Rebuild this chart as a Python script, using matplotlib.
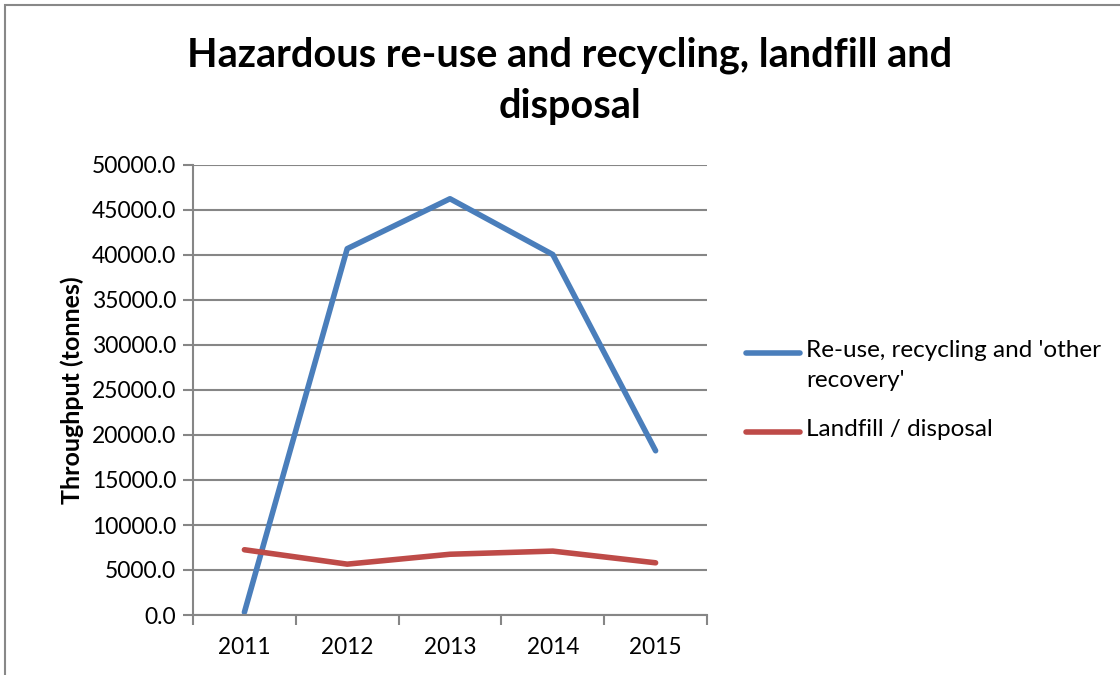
import matplotlib.pyplot as plt
from matplotlib.lines import Line2D
from matplotlib.patches import Rectangle
from matplotlib.ticker import FormatStrFormatter

plt.rcParams['font.family'] = ['Lato', 'DejaVu Sans']

# data
years = ['2011', '2012', '2013', '2014', '2015']
reuse = [300, 40700, 46250, 40050, 18250]
landfill = [7250, 5650, 6750, 7100, 5800]
labels = ["Re-use, recycling and 'other\nrecovery'", 'Landfill / disposal']
colors = ['#4A7EBB', '#BE4B48']

fig = plt.figure(figsize=(11.2, 6.75), dpi=100)
ax = fig.add_axes([193/1120, 1 - 615/675, 514/1120, 450/675])

x = range(len(years))
ax.plot(x, reuse, color=colors[0], lw=4, solid_capstyle='round', solid_joinstyle='round')
ax.plot(x, landfill, color=colors[1], lw=4, solid_capstyle='round', solid_joinstyle='round')

ax.set_xlim(-0.5, len(years) - 0.5)
ax.set_ylim(0, 50000)
ax.set_yticks(range(0, 50001, 5000))
ax.yaxis.set_major_formatter(FormatStrFormatter('%.1f'))
ax.set_xticks(list(x))
ax.set_xticklabels(years)
ax.set_xticks([i - 0.5 for i in range(len(years) + 1)], minor=True)
ax.tick_params(axis='x', which='major', length=0, labelsize=16.3, pad=16)
ax.tick_params(axis='x', which='minor', length=7, width=1.5, color='#868686')
ax.tick_params(axis='y', length=7, width=1.5, color='#868686', labelsize=16.5, pad=5)
ax.grid(axis='y', color='#868686', lw=1.5)
ax.set_axisbelow(True)
for s in ['top', 'right']:
    ax.spines[s].set_visible(False)
for s in ['left', 'bottom']:
    ax.spines[s].set_color('#868686')
    ax.spines[s].set_linewidth(1.5)

ax.set_ylabel('Throughput (tonnes)', fontsize=18, fontweight='bold', labelpad=6)

fig.text(570/1120, 1 - 81/675, 'Hazardous re-use and recycling, landfill and\ndisposal',
         ha='center', va='center', fontsize=28.5, fontweight='bold', linespacing=1.45)

# legend drawn by hand to put the handle on the first text line
leg_y = [353, 432]
for c, lab, y in zip(colors, labels, leg_y):
    fig.add_artist(Line2D([746/1120, 800/1120], [1 - y/675, 1 - y/675], color=c, lw=4,
                          solid_capstyle='round'))
    fig.text(806/1120, 1 - (y - 13)/675, lab, ha='left', va='top', fontsize=17.5, linespacing=1.55)

fig.add_artist(Rectangle((5/1120, -0.1), 1.2, 1 - 5/675 + 0.1, transform=fig.transFigure,
                         fill=False, ec='#888888', lw=1.5))

fig.savefig('out.png', dpi=100)
